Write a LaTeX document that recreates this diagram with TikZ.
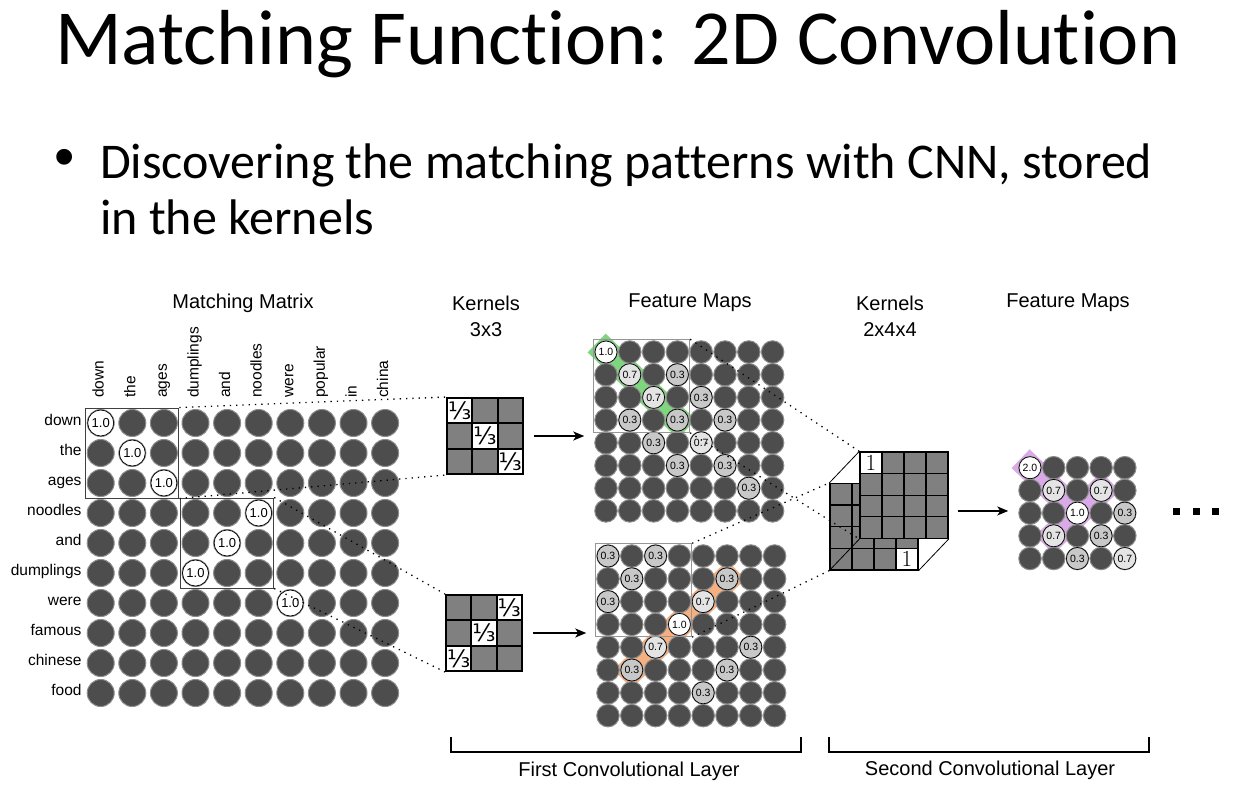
\documentclass[tikz,border=0pt]{standalone}
\usepackage{fontspec}
\setmainfont{Liberation Sans}
\newfontfamily\slidefont[Ligatures={NoCommon,NoContextual}, Contextuals=NoAlternate]{Carlito}
\newfontfamily\fracfont{DejaVu Sans}
\usetikzlibrary{positioning,fit,calc,backgrounds,arrows.meta}

\definecolor{dotgray}{RGB}{77,77,77}
\definecolor{rimgray}{RGB}{140,140,140}
\definecolor{kgray}{RGB}{128,128,128}
\definecolor{lowgray}{RGB}{200,200,200}
\definecolor{midgray}{RGB}{228,228,228}
\definecolor{boxgray}{RGB}{150,150,150}
\definecolor{bandgreen}{RGB}{126,214,126}
\definecolor{bandorange}{RGB}{246,176,128}
\definecolor{bandpurple}{RGB}{218,170,232}

\tikzset{
  head/.style={font=\fontsize{20}{26}\selectfont, align=center},
  rowlab/.style={font=\fontsize{15.5}{15.5}\selectfont, inner sep=1pt},
  mdot/.style={circle, fill=dotgray, draw=rimgray, line width=1pt, minimum size=27pt, inner sep=0pt},
  fdot/.style={mdot, minimum size=22.5pt},
  hit/.style={circle, draw=black, line width=0.7pt, minimum size=26pt, inner sep=0pt, font=\fontsize{13}{13}\selectfont},
  fhit/.style={hit, minimum size=22pt, font=\fontsize{10.5}{10.5}\selectfont},
  selbox/.style={draw=black!75, line width=1pt, inner sep=1pt},
  fbox/.style={draw=boxgray, line width=1pt, inner sep=0.5pt},
  proj/.style={line width=1.3pt, dash pattern=on 1.3pt off 5pt},
  kcell/.style={draw=black, line width=2pt, fill=kgray, minimum size=25.3pt, inner sep=0pt},
  ccell/.style={draw=black, line width=1.3pt, fill=kgray, minimum width=22pt, minimum height=21.6pt, inner sep=0pt},
  arr/.style={-{Stealth[length=11pt, width=9pt, inset=3pt]}, line width=1.6pt},
  band/.style={line width=26pt, line cap=rect},
}

\begin{document}
\begin{tikzpicture}[x=1pt, y=-1pt]
  \useasboundingbox (0,0) rectangle (1233,790);

  % slide title and bullet
  \node[font=\slidefont\fontsize{78}{78}\selectfont, anchor=base west, inner sep=0pt] (title) at (55,64) {Matching Function: 2D Convolution};
  \node[font=\fontsize{58}{58}\selectfont, anchor=base west, inner sep=0pt] (bullet) at (54,176) {•};
  \node[font=\slidefont\fontsize{50}{50}\selectfont, anchor=base west, inner sep=0pt] (point1) at (100,178) {Discovering the matching patterns with CNN, stored};
  \node[font=\slidefont\fontsize{50}{50}\selectfont, anchor=base west, inner sep=0pt] (point2) at (100,234) {in the kernels};

  % headings
  \node[head] (mmhead) at (243,303) {Matching Matrix};
  \node[head] (kahead) at (486,316.5) {Kernels\\3x3};
  \node[head] (fahead) at (690,303) {Feature Maps};
  \node[head] (kbhead) at (890,316) {Kernels\\2x4x4};
  \node[head] (fchead) at (1068,303) {Feature Maps};

  % matching matrix
  \foreach \r in {1,...,10}
    \foreach \c in {1,...,10}
      \node[mdot] (mm-\r-\c) at ({100.7+31.6*(\c-1)}, {423+30*(\r-1)}) {};
  \foreach \r/\c in {1/1,2/2,3/3,4/6,5/5,6/4,7/7}
    \node[hit, fill=white] (mv-\r-\c) at (mm-\r-\c) {1.0};
  \foreach \w [count=\r] in {down,the,ages,noodles,and,dumplings,were,famous,chinese,food}
    \node[rowlab, left=4pt of mm-\r-1, anchor=mid east] (rl-\r) {\w};
  \foreach \w [count=\c] in {down,the,ages,dumplings,and,noodles,were,popular,in,china}
    \node[rowlab, rotate=90, anchor=base west] (cl-\c) at ($(mm-1-\c.north)+(3,-10)$) {\w};
  \node[selbox, fit=(mm-1-1)(mm-3-3)] (sel1) {};
  \node[selbox, fit=(mm-4-4)(mm-6-6)] (sel2) {};

  % 3x3 kernels
  \foreach \r in {0,1,2}
    \foreach \c in {0,1,2} {
      \node[kcell] (ka-\r-\c) at ({459.7+25.3*\c}, {410.7+25.3*\r}) {};
      \node[kcell] (kb-\r-\c) at ({458.7+25.3*\c}, {607.7+25.3*\r}) {};
    }
  \foreach \i in {0,1,2} {
    \node[kcell, fill=white, font=\fracfont\fontsize{24}{24}\selectfont] (kaw-\i) at (ka-\i-\i) {⅓};
    \pgfmathtruncatemacro{\j}{2-\i}
    \node[kcell, fill=white, font=\fracfont\fontsize{24}{24}\selectfont] (kbw-\i) at (kb-\i-\j) {⅓};
  }
  \draw[proj] (sel1.north east) -- (ka-0-0.north west);
  \draw[proj] (sel1.south east) -- (ka-2-0.south west);
  \draw[proj] (sel2.north east) -- (kb-0-0.north west);
  \draw[proj] (sel2.south east) -- (kb-2-0.south west);

  % first feature maps
  \foreach \r in {0,...,7}
    \foreach \c in {0,...,7} {
      \node[fdot] (fa-\r-\c) at ({606+23.8*\c}, {352+22.7*\r}) {};
      \node[fdot] (fb-\r-\c) at ({608+23.8*\c}, {556+22.8*\r}) {};
    }
  \foreach \r/\c/\v/\f in {0/0/1.0/white, 1/1/0.7/midgray, 1/3/0.3/lowgray, 2/2/0.7/midgray, 2/4/0.3/lowgray,
      3/1/0.3/lowgray, 3/3/0.3/lowgray, 3/5/0.3/lowgray, 4/2/0.3/lowgray, 4/4/0.7/midgray,
      5/3/0.3/lowgray, 5/5/0.3/lowgray, 6/6/0.3/lowgray}
    \node[fhit, fill=\f] (fav-\r-\c) at (fa-\r-\c) {\v};
  \foreach \r/\c/\v/\f in {0/0/0.3/lowgray, 0/2/0.3/lowgray, 1/1/0.3/lowgray, 1/5/0.3/lowgray, 2/0/0.3/lowgray,
      2/4/0.7/midgray, 3/3/1.0/white, 4/2/0.7/midgray, 4/6/0.3/lowgray, 5/1/0.3/lowgray,
      5/5/0.3/lowgray, 6/4/0.3/lowgray}
    \node[fhit, fill=\f] (fbv-\r-\c) at (fb-\r-\c) {\v};
  \node[fbox, fit=(fa-0-0)(fa-3-3)] (fboxa) {};
  \node[fbox, fit=(fb-0-0)(fb-3-3)] (fboxb) {};
  \draw[arr, shorten <=10pt, shorten >=9pt] (ka-1-2.east) -- (ka-1-2.east -| fboxa.west);
  \draw[arr, shorten <=10pt, shorten >=9pt] (kb-1-2.east) -- (kb-1-2.east -| fboxb.west);

  % 2x4x4 kernel
  \foreach \r in {0,...,3}
    \foreach \c in {0,...,3}
      \node[ccell] (cb-\r-\c) at ({841+22*\c}, {494.3+21.6*\r}) {};
  \node[ccell, fill=white, font=\fontfamily{lmr}\fontsize{23}{23}\selectfont] (cbw) at (cb-3-3) {1};
  \foreach \r in {0,...,3}
    \foreach \c in {0,...,3}
      \node[ccell] (cf-\r-\c) at ({871+22*\c}, {462.8+21.6*\r}) {};
  \node[ccell, fill=white, font=\fontfamily{lmr}\fontsize{23}{23}\selectfont] (cfw) at (cf-0-0) {1};
  \draw[line width=0.8pt] (cb-0-0.north west) -- (cf-0-0.north west);
  \draw[line width=0.8pt] (cb-3-0.south west) -- (cf-3-0.south west);
  \draw[line width=0.8pt] (cb-3-3.south east) -- (cf-3-3.south east);
  \draw[proj] (fboxa.north east) -- (cf-0-0.north west);
  \draw[proj] (fboxa.south east) -- (cf-3-0.south west);
  \draw[proj] (fboxb.north east) -- (cb-0-0.north west);
  \draw[proj] (fboxb.south east) -- (cb-3-0.south west);

  % second feature maps
  \foreach \r in {0,...,4}
    \foreach \c in {0,...,4}
      \node[fdot] (fc-\r-\c) at ({1030+23.7*\c}, {467.7+22.7*\r}) {};
  \foreach \r/\c/\v/\f in {0/0/2.0/white, 1/1/0.7/midgray, 1/3/0.7/midgray, 2/2/1.0/white, 2/4/0.3/lowgray,
      3/1/0.7/midgray, 3/3/0.3/lowgray, 4/2/0.3/lowgray, 4/4/0.7/midgray}
    \node[fhit, fill=\f] (fcv-\r-\c) at (fc-\r-\c) {\v};
  \path (cf-0-3.north east) -- (cb-3-3.south east) coordinate[midway] (kbmid);
  \draw[arr, shorten <=24pt, shorten >=10pt] (kbmid) -- (kbmid -| fc-2-0.west);
  \foreach \i in {0,1,2}
    \node[fill=black, minimum size=7pt, inner sep=0pt] (more-\i) at ({1176.7+19.5*\i}, 511) {};

  % highlighted paths
  \begin{scope}[on background layer]
    \fill[white] (0,0) rectangle (1233,790);
    \draw[band, bandgreen] (fa-0-0.center) -- (fa-3-3.center);
    \draw[band, bandorange] (fb-5-1.center) -- (fb-1-5.center);
    \draw[band, bandpurple] (fc-0-0.center) -- (fc-2-2.center);
    \draw[band, bandpurple] (fc-1-3.center) -- (fc-3-1.center);
  \end{scope}

  % layer brackets
  \draw[line width=1.5pt] (451,737) |- (801,752) -- (801,737);
  \draw[line width=1.5pt] (829,737) |- (1149,752) -- (1149,737);
  \node[head] (layera) at (629,771) {First Convolutional Layer};
  \node[head] (layerb) at (990,770) {Second Convolutional Layer};

\end{tikzpicture}
\end{document}
